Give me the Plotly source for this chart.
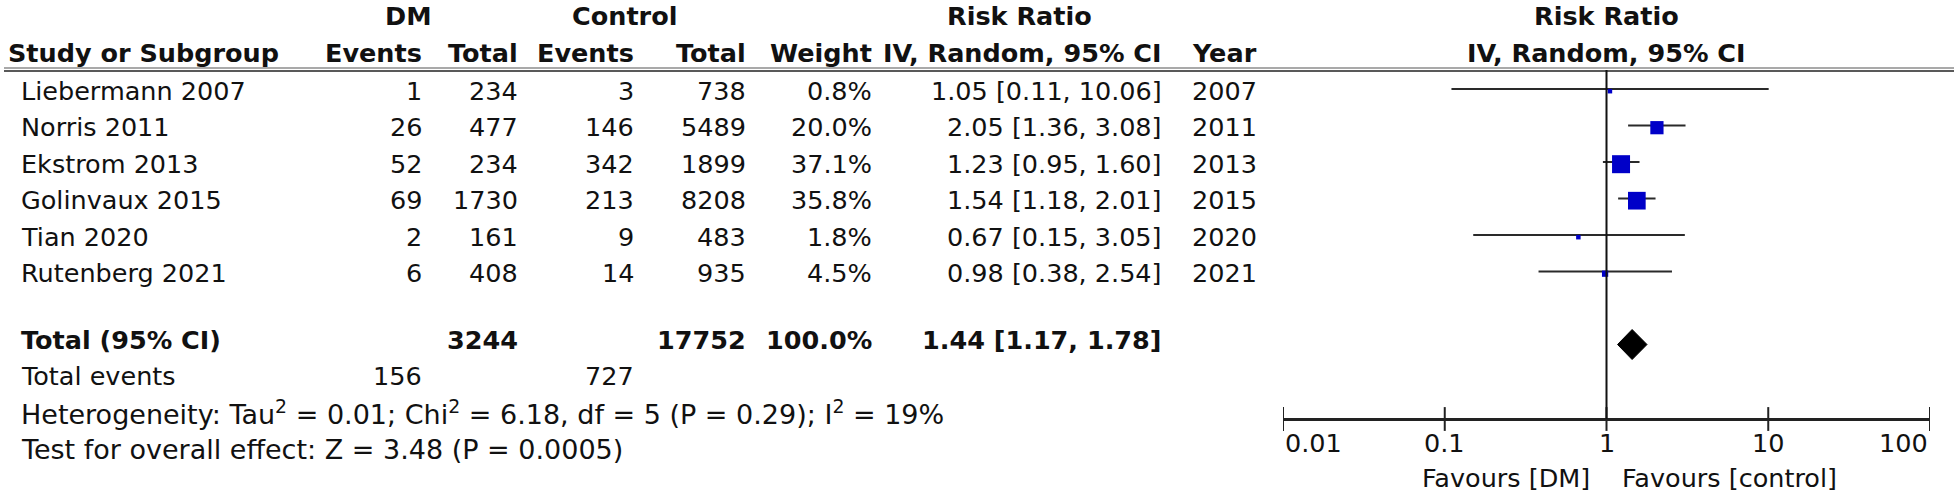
import math
import plotly.graph_objects as go

# ---------------- data ----------------
studies = ["Liebermann 2007", "Norris 2011", "Ekstrom 2013", "Golinvaux 2015", "Tian 2020", "Rutenberg 2021"]
dm_events = [1, 26, 52, 69, 2, 6]
dm_total = [234, 477, 234, 1730, 161, 408]
ctrl_events = [3, 146, 342, 213, 9, 14]
ctrl_total = [738, 5489, 1899, 8208, 483, 935]
weights = [0.8, 20.0, 37.1, 35.8, 1.8, 4.5]
rr = [1.05, 2.05, 1.23, 1.54, 0.67, 0.98]
ci_low = [0.11, 1.36, 0.95, 1.18, 0.15, 0.38]
ci_high = [10.06, 3.08, 1.60, 2.01, 3.05, 2.54]
years = [2007, 2011, 2013, 2015, 2020, 2021]

total_dm = 3244
total_ctrl = 17752
total_weight = 100.0
pooled_rr = 1.44
pooled_low = 1.17
pooled_high = 1.78
total_events_dm = 156
total_events_ctrl = 727

heterogeneity_text = "Heterogeneity: Tau<sup>2</sup> = 0.01; Chi<sup>2</sup> = 6.18, df = 5 (P = 0.29); I<sup>2</sup> = 19%"
overall_text = "Test for overall effect: Z = 3.48 (P = 0.0005)"

tick_values = [0.01, 0.1, 1, 10, 100]
tick_labels = ["0.01", "0.1", "1", "10", "100"]

# ---------------- layout helpers ----------------
W, H = 1958, 492
ROW0, ROWH = 89.0, 36.5          # pixel centre of first study row, row pitch


def row_of(px):
    return (px - ROW0) / ROWH


def px_x(px):
    return px / W


FONT = "DejaVu Sans"
FS = 25.5
TXT = "#111111"

fig = go.Figure()

# CI lines
xs, ys = [], []
for i, (lo, hi) in enumerate(zip(ci_low, ci_high)):
    xs += [lo, hi, None]
    ys += [i, i, None]
fig.add_trace(go.Scatter(x=xs, y=ys, mode="lines", line=dict(color="#2a2a2a", width=2.2),
                         hoverinfo="skip", showlegend=False))

# weight squares
sizes = [max(4.5, 18 * math.sqrt(w / max(weights))) for w in weights]
fig.add_trace(go.Scatter(x=rr, y=[i + 0.06 for i in range(len(rr))], mode="markers",
                         marker=dict(symbol="square", size=sizes, color="#0000C8", opacity=1,
                                     line=dict(width=0)),
                         hoverinfo="skip", showlegend=False))

# pooled diamond
total_row = len(studies) + 1
hh = 15 / ROWH
fig.add_trace(go.Scatter(x=[pooled_low, pooled_rr, pooled_high, pooled_rr, pooled_low],
                         y=[total_row, total_row - hh, total_row, total_row + hh, total_row],
                         mode="lines", fill="toself", fillcolor="#000000",
                         line=dict(color="#000000", width=1), hoverinfo="skip", showlegend=False))

# axis tick marks (crossing the axis line)
axis_row = row_of(419)
fig.add_trace(go.Scatter(x=tick_values, y=[axis_row] * len(tick_values), mode="markers",
                         marker=dict(symbol="line-ns-open", size=17, color="#222222",
                                     line=dict(color="#222222", width=2)),
                         hoverinfo="skip", showlegend=False))

# ---------------- shapes ----------------
shapes = []
# double header rule
for py, col, wd in [(68, "#555555", 1.2), (71, "#222222", 1.6)]:
    shapes.append(dict(type="line", xref="paper", yref="y", x0=px_x(4), x1=px_x(1954),
                       y0=row_of(py), y1=row_of(py), line=dict(color=col, width=wd)))
# line of no effect
shapes.append(dict(type="line", xref="x", yref="y", x0=1, x1=1, y0=row_of(70), y1=axis_row,
                   line=dict(color="#111111", width=2)))

# ---------------- annotations (table text) ----------------
ann = []


def txt(text, xpos, row, anchor="right", bold=False, xref="paper", xshift=0, size=FS):
    if bold:
        text = f"<b>{text}</b>"
    x = px_x(xpos) if xref == "paper" else math.log10(xpos)   # log axis -> log10 units
    ann.append(dict(text=text, x=x, xref=xref,
                    y=row, yref="y", xanchor=anchor, yanchor="middle", showarrow=False,
                    xshift=xshift, font=dict(family=FONT, size=size, color=TXT)))


# column right edges (px)
C_DMEV, C_DMTOT, C_CEV, C_CTOT, C_W, C_CI, C_YEAR = 424, 520, 636, 748, 874, 1164, 1259
NAME_X, HEAD_X = 19, 6

hr1, hr2 = -2, -1
txt("DM", 408, hr1, "center", True)
txt("Control", 624, hr1, "center", True)
txt("Risk Ratio", 1019, hr1, "center", True)
txt("Risk Ratio", 1, hr1, "center", True, xref="x")
txt("Study or Subgroup", HEAD_X, hr2, "left", True)
txt("Events", C_DMEV, hr2, "right", True)
txt("Total", C_DMTOT, hr2, "right", True)
txt("Events", C_CEV, hr2, "right", True)
txt("Total", C_CTOT, hr2, "right", True)
txt("Weight", C_W, hr2, "right", True)
txt("IV, Random, 95% CI", C_CI, hr2, "right", True)
txt("Year", C_YEAR, hr2, "right", True)
txt("IV, Random, 95% CI", 1, hr2, "center", True, xref="x")

for i, s in enumerate(studies):
    r = i + 0.05
    txt(s, NAME_X, r, "left")
    txt(str(dm_events[i]), C_DMEV, r)
    txt(str(dm_total[i]), C_DMTOT, r)
    txt(str(ctrl_events[i]), C_CEV, r)
    txt(str(ctrl_total[i]), C_CTOT, r)
    txt(f"{weights[i]:.1f}%", C_W, r)
    txt(f"{rr[i]:.2f} [{ci_low[i]:.2f}, {ci_high[i]:.2f}]", C_CI, r)
    txt(str(years[i]), C_YEAR, r)

tr = total_row - 0.13   # summary text sits slightly above the diamond centre
txt("Total (95% CI)", NAME_X, tr, "left", True)
txt(str(total_dm), C_DMTOT, tr, "right", True)
txt(str(total_ctrl), C_CTOT, tr, "right", True)
txt(f"{total_weight:.1f}%", C_W, tr, "right", True)
txt(f"{pooled_rr:.2f} [{pooled_low:.2f}, {pooled_high:.2f}]", C_CI, tr, "right", True)

txt("Total events", NAME_X, tr + 1, "left")
txt(str(total_events_dm), C_DMEV, tr + 1)
txt(str(total_events_ctrl), C_CEV, tr + 1)
txt(heterogeneity_text, NAME_X, tr + 2, "left", size=27)
txt(overall_text, NAME_X, tr + 3, "left", size=27)

# tick labels
lab_row = row_of(443)
for v, lab in zip(tick_values, tick_labels):
    anchor = "left" if v == tick_values[0] else ("right" if v == tick_values[-1] else "center")
    txt(lab, v, lab_row, anchor, xref="x")

fav_row = row_of(478)
txt("Favours [DM]", 1, fav_row, "right", xref="x", xshift=-15)
txt("Favours [control]", 1, fav_row, "left", xref="x", xshift=13)

fig.update_layout(
    width=W, height=H, autosize=False,
    margin=dict(l=0, r=0, t=0, b=0),
    paper_bgcolor="white", plot_bgcolor="rgba(0,0,0,0)",
    showlegend=False,
    shapes=shapes, annotations=ann,
    xaxis=dict(type="log", range=[-2, 2], domain=[px_x(1283), px_x(1930)],
               anchor="free", position=1 - 419 / H,
               showline=True, linecolor="#222222", linewidth=2.5,
               ticks="", showticklabels=False, showgrid=False, zeroline=False, fixedrange=True),
    yaxis=dict(range=[row_of(H), row_of(0)], domain=[0, 1], visible=False,
               showgrid=False, zeroline=False, fixedrange=True),
)

fig.write_html("out.html", config={"displayModeBar": False},
               post_script="document.body.style.margin='0px';document.body.style.overflow='hidden';")
